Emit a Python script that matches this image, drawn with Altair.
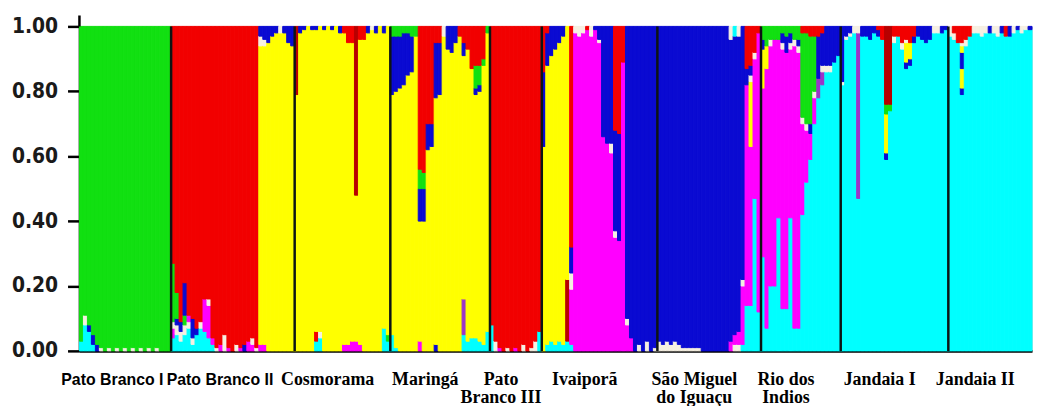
import altair as alt
import pandas as pd

# Cluster colours (STRUCTURE-style ancestry clusters)
cluster_keys = ["C", "P", "M", "Y", "B", "G", "R", "D", "W"]
cluster_colors = ["#00ffff", "#9a35c8", "#ff00ff", "#ffff00", "#0a0ad2",
                  "#11e011", "#f20000", "#b80000", "#f6f0e2"]

# Individuals per population, each a bottom-to-top list of segments:
# "X.05" = cluster X with 0.05, "X*" = remainder, "X" = whole individual
pato_branco_1 = ["C.03 G*", "C.08 W.03 G*", "C.06 B.02 G*", "C.02 B.03 G*", "B.02 G*",
                 "W.01 G*", "G", "W.01 G*", "G", "W.01 G*", "G", "W.01 G*", "G",
                 "W.01 G*", "G", "W.01 G*", "G", "W.01 G*", "G", "W.01 G*", "G", "G", "G"]
pato_branco_2 = ["C.04 M.03 W.02 G.18 R*", "C.05 W.03 B.02 G.08 R*", "C.03 W.03 B.03 R*",
                 "C.05 W.03 G.03 B.10 R*", "C.07 W.02 M.02 R*", "C.02 W.02 B.06 R*",
                 "C.05 B.02 R*", "C.07 W.02 R*", "C.06 M.10 R*", "C.04 M.10 W.02 R*",
                 "C.02 M.02 R*", "W.01 R*", "M.02 R*", "W.05 R*", "M.01 R*", "R",
                 "W.02 R*", "M.01 R*", "B.02 R*", "M.03 R*", "M.02 W.02 R*", "W.01 R*",
                 "M.02 Y.92 W.03 B*", "M.02 Y.92 W.02 B*", "Y.95 B*", "Y.97 B*", "Y.98 B*",
                 "Y.98 W*", "Y.98 B*", "Y.95 B*", "Y.94 B*"]
cosmorama = ["Y.79 D*", "Y.98 B*", "Y.99 B*", "Y", "Y.99 B*", "C.03 R.03 Y.93 B*",
             "C.04 W.02 Y*", "Y.99 B*", "Y", "Y.99 B*", "Y", "Y.98 B*", "M.02 Y.96 R*",
             "M.02 Y.93 R*", "M.03 Y.92 R*", "M.03 Y.45 D*", "M.02 Y.94 R*", "Y.96 R*",
             "Y.98 B*", "Y.99 W*", "Y.98 B*", "Y", "C.07 Y.91 B*", "C.03 G.02 Y*"]
maringa = ["C.05 Y.74 B.18 G*", "C.01 Y.79 B.17 G*", "Y.81 B.16 G*", "Y.82 B.16 G*",
           "Y.85 B.13 G*", "Y.86 B.11 G*", "Y.97 G*", "M.03 Y.37 B.10 G.06 R*",
           "Y.40 B.10 G.05 R*", "Y.62 B.08 R*", "Y.63 B.07 R*", "B.02 Y.76 B.17 R*",
           "Y.79 B.16 R*", "Y.97 W*", "Y.93 B*", "Y.92 B*", "Y.95 B*", "Y.97 R*",
           "C.05 P.11 Y.75 B.04 R*", "C.03 Y.90 R*", "C.04 Y.83 R*",
           "C.04 Y.75 B.02 G.07 R*", "C.03 Y.77 B.02 G.06 R*", "C.02 Y.86 G.02 R*",
           "C.06 Y.92 G*"]
pato_branco_3 = ["C.08 R*", "W.03 R*", "M.01 R*", "R", "W.01 R*", "R", "M.01 R*", "R",
                 "W.02 R*", "R", "W.01 R*", "W.03 R*", "C.06 R*"]
ivaipora = ["Y.63 B.23 R*", "C.02 Y.86 B.10 R*", "C.03 Y.88 B*", "C.02 Y.91 B*",
            "C.03 Y.92 B*", "C.02 Y.95 B*", "C.03 D.19 Y*", "C.02 M.17 W.05 B.08 R*",
            "M.98 W*", "M.97 W*", "M.98 W*", "M.99 R*", "M.97 W*", "M.99 B*",
            "M.95 W.01 B*", "M.66 B*", "M.64 B*", "M.61 W.03 B*", "M.35 W.02 B.31 R*",
            "M.34 B.33 R*", "M.89 R*", "M.08 W.02 B*", "M.04 B*", "B", "W.02 B*", "B",
            "W.03 B*", "B", "W.01 B*"]
sao_miguel = ["W.03 B*", "W.02 B*", "W.03 B*", "W.02 B*", "W.03 B*", "W.02 B*", "W.01 B*",
              "W.01 B*", "W.01 B*", "W.01 B*", "W.01 B*", "B", "B", "B", "B", "B", "B", "B",
              "M.03 B.93 W*", "W.02 M.03 B.92 C*", "W.02 M.04 B.91 W*", "C.02 M.18 W.02 B*",
              "C.14 M.68 B.05 R*", "C.14 M.49 Y.20 W.02 B.03 R*", "C.47 M.43 W.02 R*",
              "C.12 M.86 R*"]
rio_dos_indios = ["C.29 M.52 Y.12 B.03 G*", "C.07 M.80 Y.07 G*", "C.20 M.74 W.02 G*",
                  "C.20 M.76 G*", "C.41 M.55 G*", "C.13 M.80 W.02 B.03 G*",
                  "C.13 M.79 B.05 G*", "C.41 M.52 W.02 B.03 G*", "C.07 M.87 W.02 G*",
                  "C.07 M.85 W.02 B.02 G*", "C.42 M.28 W.02 G.26 R*",
                  "C.52 M.16 W.02 G.28 R*", "C.59 M.08 B.03 G.27 R*",
                  "C.70 M.08 W.02 G.17 R*", "C.78 P.06 B.13 R*", "C.82 P.04 W.02 B.10 R*",
                  "C.86 W.02 B*", "C.86 W.02 B*", "C.89 B*", "C.91 B*"]
jandaia_1 = ["C.82 W.01 B*", "C.96 W.01 B*", "C.97 W.01 B*", "C.98 W*", "C.47 P.51 W*",
             "C.97 B*", "C.97 B*", "C.96 B*", "C.98 B*", "C.97 B.02 R*", "C.96 R*",
             "C.59 B.02 Y.12 G.03 D*", "C.74 G.02 D*", "C.95 W.02 R*", "C.97 R*",
             "C.93 W.02 R*", "C.87 B.02 Y.06 W.01 R*", "C.88 B.02 Y.05 R*", "C.95 B.02 R*",
             "C.97 B*", "C.96 B*", "C.95 B*", "C.96 B*", "C.98 W*", "C.98 W*", "C.98 B*",
             "C.99 B*"]
jandaia_2 = ["C.97 W*", "C.96 W.02 R*", "C.95 R*", "C.79 B.02 Y.06 B.05 Y.02 W.01 R*",
             "C.94 W.02 R*", "C.97 R*", "C.98 W*", "C.98 W*", "C.97 W*", "C.98 W*",
             "C.98 B*", "C.98 W*", "C.97 W*", "C.98 B*", "C.97 R*", "C.97 B*", "C.98 W*",
             "C.99 B*", "C.98 W*", "C.99 W*", "C.99 B*"]

populations = [pato_branco_1, pato_branco_2, cosmorama, maringa, pato_branco_3,
               ivaipora, sao_miguel, rio_dos_indios, jandaia_1, jandaia_2]
pop_labels = ["Pato Branco I", "Pato Branco II", "Cosmorama", "Maringá",
              "Pato\nBranco III", "Ivaiporã", "São Miguel\ndo Iguaçu",
              "Rio dos\nIndios", "Jandaia I", "Jandaia II"]
pop_label_serif = [False, False, True, True, True, True, True, True, True, True]
y_ticks = [0, 0.2, 0.4, 0.6, 0.8, 1.0]

# ---- build tables -------------------------------------------------------
rows = []
idx = 0
bounds = []
centers = []
for pop in populations:
    start = idx
    for ind in pop:
        toks = ind.split()
        used = 0.0
        for s, tok in enumerate(toks):
            key = tok[0]
            rest = tok[1:]
            if rest == "*":
                frac = max(0.0, 1.0 - used)
            elif rest == "":
                frac = 1.0
            else:
                frac = float(rest)
            used += frac
            rows.append({"ind": idx, "seg": s, "cluster": key, "frac": frac})
        idx += 1
    bounds.append(idx)
    centers.append((start + idx) / 2)
n_total = idx

df = pd.DataFrame(rows)
sep_df = pd.DataFrame({"b": bounds[:-1]})
lab_df = pd.DataFrame({"c": centers, "label": pop_labels, "serif": pop_label_serif})

xscale = alt.Scale(domain=[0, n_total], nice=False, zero=False)
yscale = alt.Scale(domain=[0, 1], nice=False)
cscale = alt.Scale(domain=cluster_keys, range=cluster_colors)

bars = (
    alt.Chart(df)
    .transform_stack(stack="frac", groupby=["ind"],
                     sort=[alt.SortField("seg", order="ascending")], as_=["y0", "y1"])
    .transform_calculate(ind_end="datum.ind + 1")
    .mark_rect(strokeWidth=1.0)
    .encode(
        x=alt.X("ind:Q", scale=xscale,
                axis=alt.Axis(labels=False, ticks=False, title=None, grid=False,
                              domainColor="black", domainWidth=3)),
        x2="ind_end:Q",
        y=alt.Y("y0:Q", scale=yscale,
                axis=alt.Axis(values=y_ticks, format=".2f",
                              tickSize=12, tickWidth=2.5, tickColor="black",
                              domainColor="black", domainWidth=2.5, grid=False,
                              title=None, labelFont="DejaVu Sans Condensed",
                              labelFontSize=21, labelFontWeight="bold",
                              labelColor="#1a1a1a", labelPadding=10)),
        y2="y1:Q",
        color=alt.Color("cluster:N", scale=cscale, legend=None),
        stroke=alt.Stroke("cluster:N", scale=cscale, legend=None),
    )
)

seps = (
    alt.Chart(sep_df)
    .mark_rule(color="#0d1414", strokeWidth=2.5)
    .encode(x=alt.X("b:Q", scale=xscale), y=alt.value(0), y2=alt.value(327))
)

top_ext = (
    alt.Chart(pd.DataFrame({"b": [0]}))
    .mark_rule(color="black", strokeWidth=2.5)
    .encode(x=alt.X("b:Q", scale=xscale), y=alt.value(-11), y2=alt.value(0))
)

lab_serif = (
    alt.Chart(lab_df)
    .transform_filter("datum.serif")
    .mark_text(font="Liberation Serif", fontSize=18, fontWeight="bold", color="black",
               baseline="alphabetic", lineBreak="\n", lineHeight=19, dx=-15)
    .encode(x=alt.X("c:Q", scale=xscale), y=alt.value(361), text="label:N")
)
lab_sans = (
    alt.Chart(lab_df)
    .transform_filter("!datum.serif")
    .mark_text(font="Liberation Sans", fontSize=16, fontWeight="bold", color="black",
               baseline="alphabetic", lineBreak="\n", dx=-13)
    .encode(x=alt.X("c:Q", scale=xscale), y=alt.value(361), text="label:N")
)

chart = (
    alt.layer(bars, seps, top_ext, lab_serif, lab_sans)
    .properties(width=960, height=327,
                autosize=alt.AutoSizeParams(type="none"),
                padding={"left": 72, "top": 17, "right": 4, "bottom": 54})
    .configure_view(stroke="black", strokeWidth=1.5)
    .configure(background="white")
)

chart.save("out.html", embed_options={"renderer": "svg", "actions": False})
